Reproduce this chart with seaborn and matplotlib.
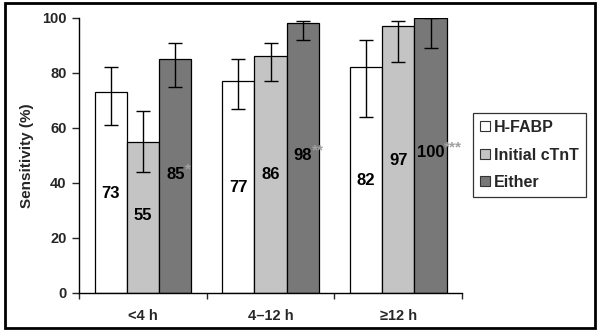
import matplotlib
matplotlib.use("Agg")
import matplotlib.pyplot as plt
import seaborn as sns
import pandas as pd
from matplotlib.patches import Patch, Rectangle

# Data
groups = ["<4 h", "4\u201312 h", "\u226512 h"]
markers = ["H-FABP", "Initial cTnT", "Either"]
hfabp = [73, 77, 82]
ctnt = [55, 86, 97]
either = [85, 98, 100]
hfabp_lo = [61, 67, 64]
hfabp_hi = [82, 85, 92]
ctnt_lo = [44, 77, 84]
ctnt_hi = [66, 91, 99]
either_lo = [75, 92, 89]
either_hi = [91, 99, 100]
label_pos = {"H-FABP": [36, 38.5, 41], "Initial cTnT": [28, 43, 48], "Either": [43, 50, 51]}
stars = ["*", "**", "***"]

values = {"H-FABP": hfabp, "Initial cTnT": ctnt, "Either": either}
lows = {"H-FABP": hfabp_lo, "Initial cTnT": ctnt_lo, "Either": either_lo}
highs = {"H-FABP": hfabp_hi, "Initial cTnT": ctnt_hi, "Either": either_hi}

rows = []
for m in markers:
    for g, v in zip(groups, values[m]):
        rows.append({"group": g, "marker": m, "value": v})
df = pd.DataFrame(rows)

sns.set_style("white")
plt.rcParams["font.family"] = ["Liberation Sans", "DejaVu Sans"]
plt.rcParams["font.weight"] = "bold"

colors = ["#ffffff", "#c4c4c4", "#787878"]

fig = plt.figure(figsize=(6.0, 3.31), dpi=100)
ax = fig.add_axes([0.132, 0.115, 0.638, 0.831])

sns.barplot(data=df, x="group", y="value", hue="marker", order=groups,
            hue_order=markers, palette=colors, width=0.76, gap=0,
            errorbar=None, edgecolor="black", linewidth=0.9, ax=ax,
            legend=False, saturation=1)

for m, cont in zip(markers, ax.containers):
    for i, bar in enumerate(cont):
        cx = bar.get_x() + bar.get_width() / 2
        v = values[m][i]
        lo, hi = lows[m][i], highs[m][i]
        ax.errorbar([cx], [v], yerr=[[v - lo], [hi - v]], fmt="none",
                    ecolor="black", elinewidth=1.0, capsize=5, capthick=1.0,
                    zorder=5)
        ax.text(cx, label_pos[m][i], str(v), ha="center", va="center",
                fontsize=12, fontweight="bold", color="black", zorder=6)
        if m == "Either":
            txt_w = 0.072 if v < 100 else 0.105
            ax.text(cx + txt_w, label_pos[m][i] + 1.8, stars[i], ha="left",
                    va="center", fontsize=11, fontweight="bold",
                    color="#a0a0a0", zorder=6)

ax.set_xlim(-0.5, 2.5)
ax.set_ylim(0, 100)
ax.set_yticks(range(0, 101, 20))
ax.set_xlabel("")
ax.set_ylabel("Sensitivity (%)", fontsize=11, fontweight="bold", labelpad=6)
ax.tick_params(axis="y", which="both", left=True, length=5, width=1,
               direction="out", labelsize=10.5, pad=4)
ax.set_xticks([0, 1, 2])
ax.set_xticklabels(groups, fontsize=10.5, fontweight="bold")
ax.tick_params(axis="x", which="major", bottom=False, pad=8)
ax.set_xticks([-0.5, 0.5, 1.5, 2.5], minor=True)
ax.tick_params(axis="x", which="minor", bottom=True, length=4, width=1,
               direction="out")
for t in ax.get_yticklabels():
    t.set_fontweight("bold")

sns.despine(ax=ax, top=True, right=True)
for s in ["left", "bottom"]:
    ax.spines[s].set_color("black")
    ax.spines[s].set_linewidth(1.0)

handles = [Patch(facecolor=c, edgecolor="#333333", linewidth=0.8) for c in colors]
leg = fig.legend(handles, markers, loc="upper left",
                 bbox_to_anchor=(0.788, 0.659), frameon=True, fancybox=False,
                 edgecolor="black", fontsize=11.5, handlelength=0.6,
                 handleheight=0.6, handletextpad=0.3, labelspacing=0.78,
                 borderpad=0.45, borderaxespad=0)
leg.get_frame().set_linewidth(0.9)
for t in leg.get_texts():
    t.set_fontweight("bold")

# Outer frame
fig.patches.append(Rectangle((0.009, 0.01), 0.983, 0.98, transform=fig.transFigure,
                             fill=False, edgecolor="black", linewidth=2))

fig.savefig("out.png", dpi=100)
